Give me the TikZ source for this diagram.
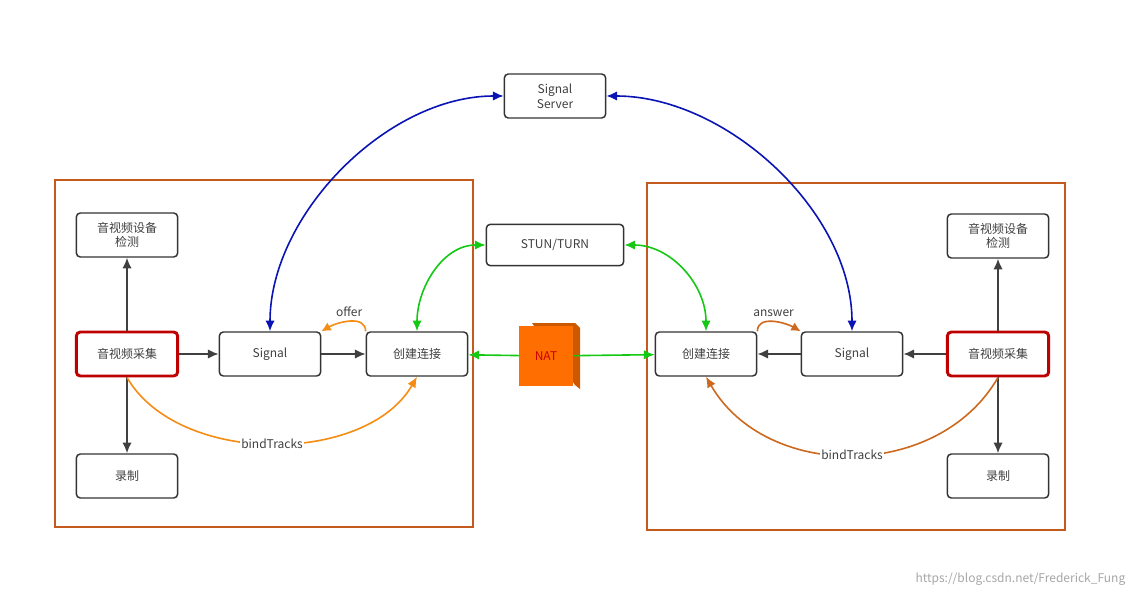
\documentclass[tikz,border=0pt]{standalone}
\usepackage{fontspec}
\setmainfont{Noto Sans CJK SC}
\usetikzlibrary{arrows.meta,positioning,shapes.misc}
\definecolor{frameC}{RGB}{196,90,30}
\definecolor{orangeC}{RGB}{245,140,20}
\definecolor{darkorC}{RGB}{205,105,30}
\definecolor{greenC}{RGB}{20,200,20}
\definecolor{blueC}{RGB}{10,20,180}
\definecolor{natC}{RGB}{255,110,0}
\begin{document}
\begin{tikzpicture}[x=0.75pt,y=-0.75pt,
  box/.style={draw=black!80,line width=1.1pt,rounded corners=3pt,fill=white,minimum width=76pt,minimum height=33pt,align=center,font=\small,text=black!75},
  src/.style={box,draw=red!75!black,line width=2.2pt},
  frame/.style={draw=frameC,line width=1.1pt},
  flow/.style={-{Latex[length=8pt,width=7pt]},line width=1.2pt,black!75},
  link/.style={{Latex[length=8pt,width=7pt]}-{Latex[length=8pt,width=7pt]},line width=1.2pt}]
\useasboundingbox (0,0) rectangle (1137,598);
% frames
\draw[frame] (55,180) rectangle (473,527);
\draw[frame] (647,183) rectangle (1065,530);
% shared nodes
\node[box] (srv) at (555,96) {Signal\\Server};
\node[box,minimum width=103pt,minimum height=31pt] (stun) at (555,245) {STUN/TURN};
\fill[natC!80!black] (532,323) -- (575,323) -- (580,328) -- (580,389) -- (575,385) -- cycle;
\node[fill=natC,minimum width=40pt,minimum height=45pt,inner sep=0pt,text=red!80!black,font=\small] (nat) at (546,356) {NAT};
% left side
\node[src] (capL) at (127,354) {音视频采集};
\node[box] (detL) at (127,235) {音视频设备\\检测};
\node[box] (recL) at (127,476) {录制};
\node[box] (sigL) at (270,354) {Signal};
\node[box] (pcL) at (417,354) {创建连接};
% right side
\node[src] (capR) at (998,354) {音视频采集};
\node[box] (detR) at (998,236) {音视频设备\\检测};
\node[box] (recR) at (998,476) {录制};
\node[box] (sigR) at (852,354) {Signal};
\node[box] (pcR) at (706,354) {创建连接};
% flows
\draw[flow] (capL) -- (detL);
\draw[flow] (capL) -- (recL);
\draw[flow] (capL) -- (sigL);
\draw[flow] (sigL) -- (pcL);
\draw[flow] (capR) -- (detR);
\draw[flow] (capR) -- (recR);
\draw[flow] (capR) -- (sigR);
\draw[flow] (sigR) -- (pcR);
% signalling
\draw[link,blueC] (srv.west) to[out=180,in=90,looseness=0.9] (sigL.north);
\draw[link,blueC] (srv.east) to[out=0,in=90,looseness=0.9] (sigR.north);
\draw[link,greenC] (stun.west) to[out=180,in=90] (pcL.north);
\draw[link,greenC] (stun.east) to[out=0,in=90] (pcR.north);
\draw[-{Latex[length=8pt,width=7pt]},line width=1.2pt,greenC] (nat) -- (pcL);
\draw[-{Latex[length=8pt,width=7pt]},line width=1.2pt,greenC] (nat) -- (pcR);
% offer / answer
\draw[-{Latex[length=7pt,width=7pt]},line width=1.2pt,orangeC] (pcL.north west) to[out=90,in=30] node[above,pos=0.5,font=\small,text=black!75] {offer} (sigL.north east);
\draw[-{Latex[length=7pt,width=7pt]},line width=1.2pt,darkorC] (pcR.north east) to[out=90,in=150] node[above,pos=0.5,font=\small,text=black!75] {answer} (sigR.north west);
% bindTracks
\draw[-{Latex[length=8pt,width=7pt]},line width=1.2pt,orangeC] (capL.south) to[out=-60,in=-120,looseness=0.9] node[pos=0.5,fill=white,inner sep=1pt,font=\small,text=black!75] {bindTracks} (pcL.south);
\draw[-{Latex[length=8pt,width=7pt]},line width=1.2pt,darkorC] (capR.south) to[out=-120,in=-60,looseness=1.05] node[pos=0.5,fill=white,inner sep=1pt,font=\small,text=black!75] {bindTracks} (pcR.south);
\node[text=black!35,font=\small,anchor=south east] (wm) at (1130,590) {https://blog.csdn.net/Frederick\_Fung};
\end{tikzpicture}
\end{document}
